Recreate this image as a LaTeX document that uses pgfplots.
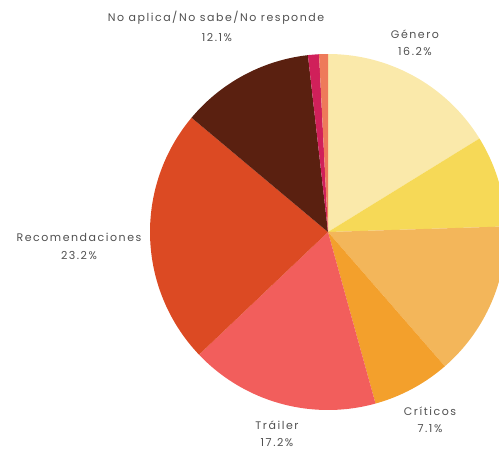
\documentclass[border=0pt]{standalone}
\usepackage{fontspec}
\setmainfont{Poppins}[LetterSpace=14]
\usepackage{pgfplots}
\pgfplotsset{compat=1.18}
\definecolor{cGen}{HTML}{FAE9AA}
\definecolor{cYel}{HTML}{F6D957}
\definecolor{cLor}{HTML}{F3B65A}
\definecolor{cCri}{HTML}{F3A02C}
\definecolor{cTra}{HTML}{F25E5C}
\definecolor{cRec}{HTML}{DC4A23}
\definecolor{cNoa}{HTML}{5A2010}
\definecolor{cMag}{HTML}{D0205A}
\definecolor{cSal}{HTML}{EE7A5A}
\definecolor{txt}{HTML}{505050}
\tikzset{lab/.style={font=\fontsize{11pt}{13pt}\selectfont, text=txt, align=center, inner sep=0pt}}
% slice: start%, end%, colour
\newcommand{\slice}[3]{\addplot[fill=#3, draw=none, domain=#1:#2, samples=80]
  ({328+178*sin(3.6*x)}, {232-178*cos(3.6*x)}) -- (axis cs:328,232) -- cycle;}
\begin{document}
\begin{tikzpicture}
\path[use as bounding box] (0,0) rectangle (499pt,458pt);
\clip (0,0) rectangle (499pt,458pt);
\begin{axis}[
  at={(0,0)}, anchor=south west,
  width=499pt, height=458pt, scale only axis,
  xmin=0, xmax=499, ymin=0, ymax=458, y dir=reverse,
  hide axis, clip=false,
]
% values (%): Genero 16.2, (yellow) 8.3, (A...) 14.1, Criticos 7.1, Trailer 17.2,
% Recomendaciones 23.2, No aplica 12.1, (magenta) 1.0, (salmon) 0.8
\slice{0}{16.2}{cGen}
\slice{16.2}{24.5}{cYel}
\slice{24.5}{38.6}{cLor}
\slice{38.6}{45.7}{cCri}
\slice{45.7}{62.9}{cTra}
\slice{62.9}{86.1}{cRec}
\slice{86.1}{98.2}{cNoa}
\slice{98.2}{99.2}{cMag}
\slice{99.2}{100}{cSal}
\node[lab] at (axis cs:216,18) {No aplica/No sabe/No responde};
\node[lab] at (axis cs:217,38) {12.1\%};
\node[lab] at (axis cs:415,34) {Género};
\node[lab] at (axis cs:415,52) {16.2\%};
\node[lab] at (axis cs:79,237) {Recomendaciones};
\node[lab] at (axis cs:79,256) {23.2\%};
\node[lab] at (axis cs:277,425) {Tráiler};
\node[lab] at (axis cs:277,443) {17.2\%};
\node[lab] at (axis cs:430,411) {Críticos};
\node[lab] at (axis cs:430,429) {7.1\%};
\node[lab] at (axis cs:528,322) {Actores};
\node[lab] at (axis cs:528,340) {14.1\%};
\end{axis}
\end{tikzpicture}
\end{document}
